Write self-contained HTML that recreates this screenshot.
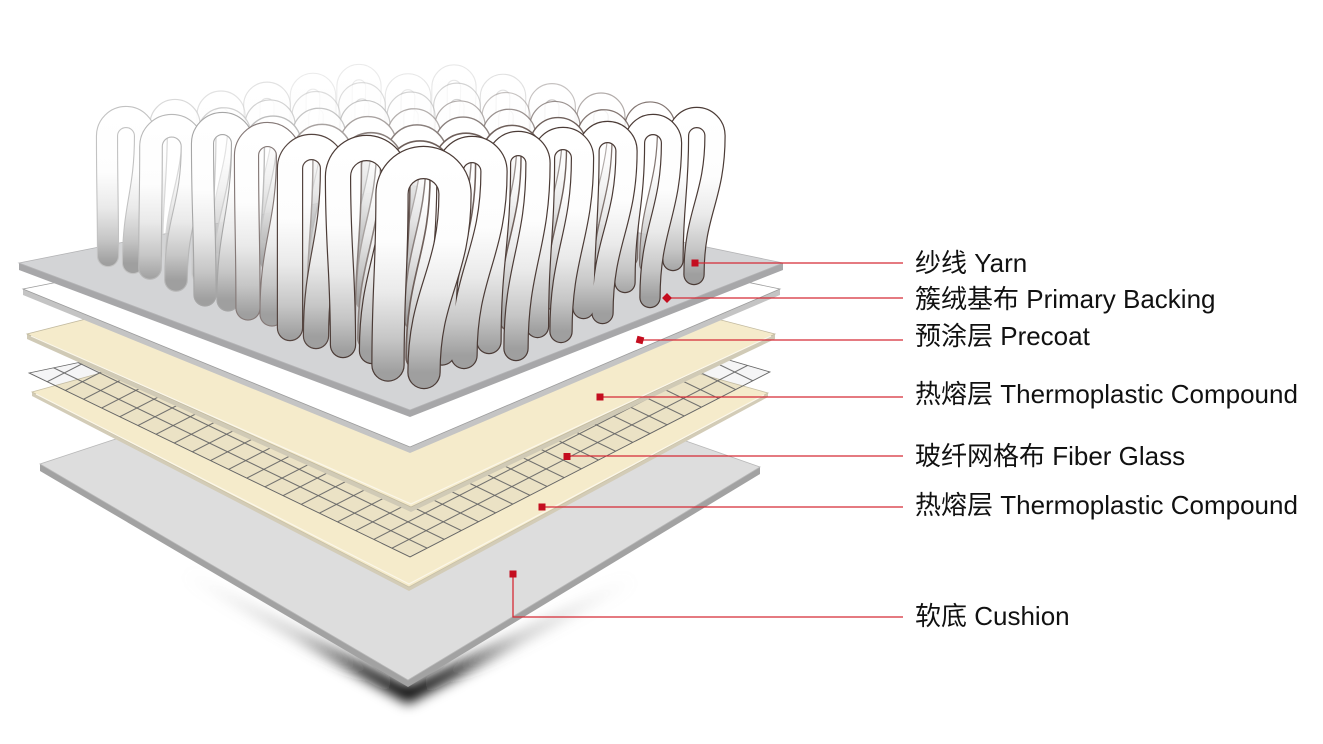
<!DOCTYPE html>
<html>
<head>
<meta charset="utf-8">
<style>
html,body{margin:0;padding:0;background:#fff;}
svg{display:block;}
.f{stroke:url(#yg);stroke-width:20;}
.c1{stroke:#6e5f5a;stroke-width:23;}
.c2{stroke:#8a807d;stroke-width:23;}
.c3{stroke:#a8a2a0;stroke-width:23;}
.c4{stroke:#bdbdbd;stroke-width:23;}
.c5{stroke:#cbcbcb;stroke-width:23;}
.c6{stroke:#d3d3d3;stroke-width:23;}
</style>
</head>
<body>
<svg width="1323" height="744" viewBox="0 0 1323 744" xmlns="http://www.w3.org/2000/svg">
<defs>
  <linearGradient id="yg" x1="0" y1="0" x2="0" y2="1">
    <stop offset="0" stop-color="#ffffff"/>
    <stop offset="0.38" stop-color="#fdfdfd"/>
    <stop offset="0.62" stop-color="#eaeaea"/>
    <stop offset="0.84" stop-color="#c6c6c6"/>
    <stop offset="1" stop-color="#9f9f9f"/>
  </linearGradient>
  <radialGradient id="sg" gradientUnits="userSpaceOnUse" cx="408" cy="688" r="250">
    <stop offset="0" stop-color="#000" stop-opacity="1"/>
    <stop offset="0.18" stop-color="#111" stop-opacity="0.85"/>
    <stop offset="0.5" stop-color="#777" stop-opacity="0.35"/>
    <stop offset="1" stop-color="#bbb" stop-opacity="0"/>
  </radialGradient>
  <filter id="bl" x="-30%" y="-30%" width="160%" height="160%"><feGaussianBlur stdDeviation="6"/></filter>
  <pattern id="gp" patternUnits="userSpaceOnUse" x="-5" y="-5" width="10" height="10" patternTransform="matrix(-1.8143 -0.8762 1.7143 -0.8810 410 557)">
    <path d="M0 5H10M5 0V10" stroke="#666" stroke-width="0.6" fill="none"/>
  </pattern>
  <path id="t" d="M-26 160C-26 88 -20 72 -20 0A20 20 0 0 1 20 0C20 75 -2 93 -2 168"/>
  <path id="pL1" d="M108 256 C108 202 107 190 107 136 A19 19 0 0 1 145 136 C145 193.2 133 205.8 133 263"/>
  <path id="pL2" d="M150 268 C150 213.3 151 201.2 151 146.5 A20.75 20.75 0 0 1 192.5 146.5 C192.5 206.6 176 219.9 176 280"/>
  <path id="pL3" d="M205 295 C205 226.8 202.5 211.7 202.5 143.5 A20 20 0 0 1 242.5 143.5 C242.5 213.9 228 229.6 228 300"/>
  <path id="pL4" d="M248 308 C248 239.4 246.5 224.1 246.5 155.5 A21 21 0 0 1 288.5 155.5 C288.5 226.8 272 242.7 272 314"/>
  <path id="pL5" d="M290 328 C290 256.2 290 240.3 290 168.5 A21.5 21.5 0 0 1 333 168.5 C333 243.9 316 260.6 316 336"/>
  <path id="pL6" d="M343 345 C343 269.2 338 252.3 338 176.5 A28.5 28.5 0 0 1 395 176.5 C395 255 372 272.5 372 351"/>
  <path id="pG" d="M673 260.5 C673 204.4 678.5 191.9 678.5 135.75 A18.25 18.25 0 0 1 715 135.75 C715 198.2 694 212.1 694 274.5"/>
  <path id="pF" d="M625 282.5 C625 219.7 634.5 205.8 634.5 143 A18.5 18.5 0 0 1 671.5 143 C671.5 212.5 650 228 650 297.5"/>
  <path id="pE" d="M583.5 308 C583.5 237.3 588.5 221.7 588.5 151 A19 19 0 0 1 626.5 151 C626.5 223.9 602.5 240.1 602.5 313"/>
  <path id="pD" d="M537.5 326.5 C537.5 250.7 543.5 233.8 543.5 158 A19.5 19.5 0 0 1 582.5 158 C582.5 236.1 561 253.4 561 331.5"/>
  <path id="pC" d="M489 341.5 C489 261.3 498.5 243.5 498.5 163.25 A19.75 19.75 0 0 1 538 163.25 C538 246.6 516 265.1 516 348.5"/>
  <path id="pB" d="M442 352 C442 270.8 450 252.7 450 171.5 A22 22 0 0 1 494 171.5 C494 254.3 464 272.7 464 355.5"/>
  <path id="pL0" d="M388 365 C388 288 392 271 392 194 A31.5 31.5 0 0 1 455 194 C455 274.3 424 292.2 424 372.5"/>
</defs>

<rect x="0" y="0" width="1323" height="744" fill="#fff"/>

<!-- shadow -->
<path d="M170 560 L408 686 L660 560 L640 582 L408 704 L190 582 Z" fill="url(#sg)" filter="url(#bl)"/>

<!-- cushion -->
<polygon points="40,464 408,680 760,467 760,474 408,687 40,471" fill="#a2a2a2"/>
<polygon points="406,343 760,467 408,680 40,464" fill="#dddddd" stroke="#b9b9b9" stroke-width="0.8"/>

<!-- thermoplastic lower -->
<polygon points="32,392 409,587 768,393 768,397 409,591 32,396" fill="#d3ccb7"/>
<polygon points="400,290 768,393 409,587 32,392" fill="#f5ebcb" stroke="#c9c1a6" stroke-width="0.8"/>
<polyline points="36,394 409,584 764,395" fill="none" stroke="#fbf7ea" stroke-width="1.2"/>

<!-- fiber glass grid -->
<polygon points="410,557 29,373 461,282 770,372" fill="rgba(90,90,110,0.06)"/>
<polygon points="410,557 29,373 461,282 770,372" fill="url(#gp)" stroke="#666" stroke-width="0.8"/>

<!-- precoat -->
<polygon points="27,334 411,507 775,334 775,339 411,512 27,339" fill="#d0cab6"/>
<polygon points="405,238 775,334 411,507 27,334" fill="#f5ebcb" stroke="#c2baa0" stroke-width="0.8"/>
<polyline points="31,336 411,504 771,336" fill="none" stroke="#fbf7ea" stroke-width="1.2"/>

<!-- primary backing (white) -->
<polygon points="23,289 410,447 780,289 780,295 410,453 23,295" fill="#c4c4c4"/>
<polygon points="410,212 780,289 410,447 23,289" fill="#ffffff" stroke="#9c9c9c" stroke-width="0.8"/>

<!-- yarn base (gray) -->
<polygon points="19,263 410,410 783,263 783,270 410,417 19,270" fill="#a7a7a9"/>
<polygon points="410,185 783,263 410,410 19,263" fill="#d3d4d6" stroke="#b4b4b6" stroke-width="0.8"/>

<!-- yarn loops -->
<g fill="none" stroke-linecap="round">
  <g transform="translate(359 86.5) scale(.72)" opacity=".45"><use href="#t" class="c6"/><use href="#t" class="f"/></g>
  <g transform="translate(454 87) scale(.72)" opacity=".45"><use href="#t" class="c5"/><use href="#t" class="f"/></g>

  <g transform="translate(313 96) scale(.74)" opacity=".45"><use href="#t" class="c6"/><use href="#t" class="f"/></g>
  <g transform="translate(408 96.5) scale(.74)" opacity=".45"><use href="#t" class="c5"/><use href="#t" class="f"/></g>
  <g transform="translate(503 97) scale(.74)" opacity=".45"><use href="#t" class="c4"/><use href="#t" class="f"/></g>

  <g transform="translate(267 105.5) scale(.76)" opacity=".65"><use href="#t" class="c6"/><use href="#t" class="f"/></g>
  <g transform="translate(362 106) scale(.76)" opacity=".65"><use href="#t" class="c5"/><use href="#t" class="f"/></g>
  <g transform="translate(457 106.5) scale(.76)" opacity=".65"><use href="#t" class="c4"/><use href="#t" class="f"/></g>
  <g transform="translate(552 107) scale(.76)" opacity=".65"><use href="#t" class="c3"/><use href="#t" class="f"/></g>

  <g transform="translate(221 115) scale(.78)" opacity=".65"><use href="#t" class="c6"/><use href="#t" class="f"/></g>
  <g transform="translate(316 115.5) scale(.78)" opacity=".65"><use href="#t" class="c5"/><use href="#t" class="f"/></g>
  <g transform="translate(411 116) scale(.78)" opacity=".65"><use href="#t" class="c4"/><use href="#t" class="f"/></g>
  <g transform="translate(506 116.5) scale(.78)" opacity=".65"><use href="#t" class="c3"/><use href="#t" class="f"/></g>
  <g transform="translate(601 117) scale(.78)" opacity=".65"><use href="#t" class="c2"/><use href="#t" class="f"/></g>

  <g transform="translate(175 124.5) scale(.815)" opacity=".85"><use href="#t" class="c6"/><use href="#t" class="f"/></g>
  <g transform="translate(270 125) scale(.815)" opacity=".85"><use href="#t" class="c5"/><use href="#t" class="f"/></g>
  <g transform="translate(365 125.5) scale(.815)" opacity=".85"><use href="#t" class="c4"/><use href="#t" class="f"/></g>
  <g transform="translate(460 126) scale(.815)" opacity=".85"><use href="#t" class="c3"/><use href="#t" class="f"/></g>
  <g transform="translate(555 126.5) scale(.815)" opacity=".85"><use href="#t" class="c2"/><use href="#t" class="f"/></g>
  <g transform="translate(650 127) scale(.815)" opacity=".85"><use href="#t" class="c1"/><use href="#t" class="f"/></g>

  <g transform="translate(224 134.5) scale(.87)" opacity=".85"><use href="#t" class="c5"/><use href="#t" class="f"/></g>
  <g transform="translate(319 135) scale(.87)" opacity=".85"><use href="#t" class="c4"/><use href="#t" class="f"/></g>
  <g transform="translate(414 135.5) scale(.87)" opacity=".85"><use href="#t" class="c3"/><use href="#t" class="f"/></g>
  <g transform="translate(509 136) scale(.87)" opacity=".85"><use href="#t" class="c2"/><use href="#t" class="f"/></g>
  <g transform="translate(604 136.5) scale(.87)" opacity=".85"><use href="#t" class="c1"/><use href="#t" class="f"/></g>

  <g transform="translate(273 144.5) scale(.925)"><use href="#t" class="c4"/><use href="#t" class="f"/></g>
  <g transform="translate(368 145) scale(.925)"><use href="#t" class="c3"/><use href="#t" class="f"/></g>
  <g transform="translate(463 145.5) scale(.925)"><use href="#t" class="c2"/><use href="#t" class="f"/></g>
  <g transform="translate(558 146) scale(.925)"><use href="#t" class="c1"/><use href="#t" class="f"/></g>

  <g transform="translate(322 154.5) scale(.98)"><use href="#t" class="c3"/><use href="#t" class="f"/></g>
  <g transform="translate(417 155) scale(.98)"><use href="#t" class="c2"/><use href="#t" class="f"/></g>
  <g transform="translate(512 155.5) scale(.98)"><use href="#t" class="c1"/><use href="#t" class="f"/></g>

  <g transform="translate(371 164.5) scale(1.035)"><use href="#t" class="c2"/><use href="#t" class="f"/></g>
  <g transform="translate(466 165) scale(1.035)"><use href="#t" class="c1"/><use href="#t" class="f"/></g>

  <g transform="translate(420 174.5) scale(1.09)"><use href="#t" class="c1"/><use href="#t" class="f"/></g>

  <use href="#pL1" stroke="#c2c2c2" stroke-width="22.2"/><use href="#pL1" stroke="url(#yg)" stroke-width="20"/>
  <use href="#pL2" stroke="#b8b8b8" stroke-width="23.7"/><use href="#pL2" stroke="url(#yg)" stroke-width="21.5"/>
  <use href="#pL3" stroke="#a6a6a6" stroke-width="23.2"/><use href="#pL3" stroke="url(#yg)" stroke-width="21"/>
  <use href="#pL4" stroke="#857977" stroke-width="25.3"/><use href="#pL4" stroke="url(#yg)" stroke-width="23"/>
  <use href="#pL5" stroke="#554540" stroke-width="26.4"/><use href="#pL5" stroke="url(#yg)" stroke-width="24"/>
  <use href="#pL6" stroke="#4b3b36" stroke-width="26.4"/><use href="#pL6" stroke="url(#yg)" stroke-width="24"/>

  <use href="#pG" stroke="#4b3b36" stroke-width="21.4"/><use href="#pG" stroke="url(#yg)" stroke-width="19"/>
  <use href="#pF" stroke="#4b3b36" stroke-width="21.4"/><use href="#pF" stroke="url(#yg)" stroke-width="19"/>
  <use href="#pE" stroke="#4b3b36" stroke-width="22.4"/><use href="#pE" stroke="url(#yg)" stroke-width="20"/>
  <use href="#pD" stroke="#4b3b36" stroke-width="23.4"/><use href="#pD" stroke="url(#yg)" stroke-width="21"/>
  <use href="#pC" stroke="#4b3b36" stroke-width="25.4"/><use href="#pC" stroke="url(#yg)" stroke-width="23"/>
  <use href="#pB" stroke="#4b3b36" stroke-width="27.4"/><use href="#pB" stroke="url(#yg)" stroke-width="25"/>

  <use href="#pL0" stroke="#4b3b36" stroke-width="33.4"/><use href="#pL0" stroke="url(#yg)" stroke-width="31"/>
</g>

<!-- leader lines -->
<g fill="none" stroke="#d52b36" stroke-width="1.3">
  <path d="M695 263H903"/>
  <path d="M667 298H903"/>
  <path d="M640 340H903"/>
  <path d="M600 397H903"/>
  <path d="M567 456H903"/>
  <path d="M542 507H903"/>
  <path d="M513 574V617H903"/>
</g>
<g fill="#c40d1f">
  <rect x="691.5" y="259.5" width="7" height="7"/>
  <rect x="663.5" y="294.5" width="7" height="7" transform="rotate(45 667 298)"/>
  <rect x="636.5" y="336.5" width="7" height="7" transform="rotate(15 640 340)"/>
  <rect x="596.5" y="393.5" width="7" height="7"/>
  <rect x="563.5" y="453" width="7" height="7"/>
  <rect x="538.5" y="503.5" width="7" height="7"/>
  <rect x="509.5" y="570.5" width="7" height="7"/>
</g>

<!-- labels -->
<g font-family="'Liberation Sans','Noto Sans CJK SC',sans-serif" font-size="26" fill="#111">
  <text x="915" y="272">纱线 Yarn</text>
  <text x="915" y="308">簇绒基布 Primary Backing</text>
  <text x="915" y="345">预涂层 Precoat</text>
  <text x="915" y="403">热熔层 Thermoplastic Compound</text>
  <text x="915" y="465">玻纤网格布 Fiber Glass</text>
  <text x="915" y="514">热熔层 Thermoplastic Compound</text>
  <text x="915" y="625">软底 Cushion</text>
</g>
</svg>
</body>
</html>
